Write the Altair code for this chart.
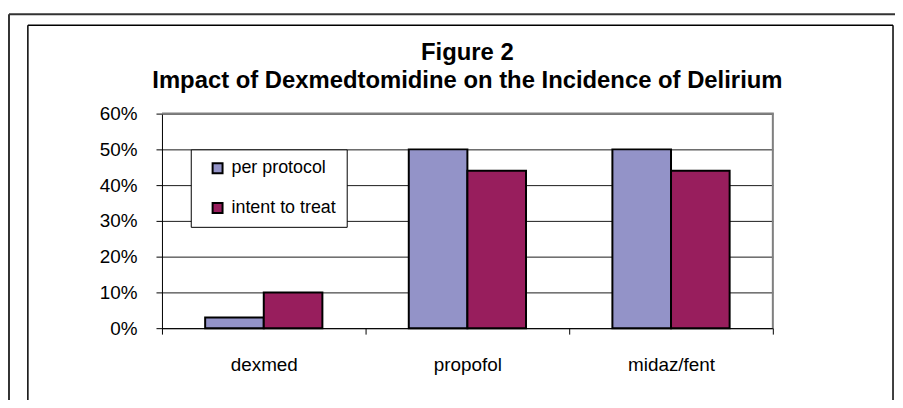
import altair as alt
import pandas as pd

# ---- data ----
categories = ["dexmed", "propofol", "midaz/fent"]
series = ["per protocol", "intent to treat"]
per_protocol = [0.03, 0.50, 0.50]
intent_to_treat = [0.10, 0.44, 0.44]
y_ticks = [0, 0.1, 0.2, 0.3, 0.4, 0.5, 0.6]
colors = ["#9393C8", "#981E5D"]
title_lines = ["Figure 2", "Impact of Dexmedtomidine on the Incidence of Delirium"]

rows = []
for c, a, b in zip(categories, per_protocol, intent_to_treat):
    rows.append({"drug": c, "series": series[0], "value": a})
    rows.append({"drug": c, "series": series[1], "value": b})
df = pd.DataFrame(rows)

FONT = "Liberation Sans"
W, H = 615, 216
PL, PT = 155, 105  # padding so the plot area starts at page (163, 113)
NBSP = "\u00a0"

bars = alt.Chart(df).mark_bar(stroke="black", strokeWidth=2).encode(
    x=alt.X(
        "drug:N", sort=categories, title=None,
        scale=alt.Scale(paddingInner=0, paddingOuter=0),
        axis=alt.Axis(labelAngle=0, tickBand="extent", domainColor="black",
                      tickColor="black", tickSize=6, labelFontSize=19,
                      labelColor="black", labelPadding=22, labelFont=FONT,
                      grid=False),
    ),
    xOffset=alt.XOffset("series:N", sort=series,
                        scale=alt.Scale(paddingInner=0, paddingOuter=0.737)),
    y=alt.Y(
        "value:Q", title=None,
        scale=alt.Scale(domain=[0, 0.6], nice=False),
        axis=alt.Axis(values=y_ticks, format="0%", grid=True, gridColor="#1a1a1a",
                      gridWidth=1, domainColor="black", tickColor="black",
                      tickSize=6, labelFontSize=19, labelColor="black",
                      labelPadding=19, labelFont=FONT),
    ),
    color=alt.Color(
        "series:N", sort=series,
        scale=alt.Scale(domain=series, range=colors),
        legend=alt.Legend(
            title=None, orient="none", legendX=29, legendY=36,
            padding=10, fillColor="white", strokeColor="black",
            symbolType="square", symbolSize=100, symbolStrokeColor="black",
            symbolStrokeWidth=2, symbolOpacity=1, labelFontSize=18,
            labelColor="black", labelFont=FONT, rowPadding=22,
            labelOffset=5, symbolOffset=8,
            labelExpr="datum.label + '" + NBSP * 4 + "'",
        ),
    ),
)

# plot-area border (gray, top and right)
top_border = alt.Chart().mark_rule(color="#808080", strokeWidth=2).encode(
    x=alt.value(0), x2=alt.value(W + 1), y=alt.value(0))
right_border = alt.Chart().mark_rule(color="#808080", strokeWidth=2).encode(
    x=alt.value(W), y=alt.value(0), y2=alt.value(H))

# outer and inner frames of the figure
outer_top = alt.Chart().mark_rule(color="#333333", strokeWidth=2).encode(
    x=alt.value(-154), x2=alt.value(900), y=alt.value(-100))
outer_left = alt.Chart().mark_rule(color="#333333", strokeWidth=2).encode(
    x=alt.value(-154), y=alt.value(-100), y2=alt.value(400))
inner_top = alt.Chart().mark_rule(color="black", strokeWidth=1.5).encode(
    x=alt.value(-135), x2=alt.value(736), y=alt.value(-89))
inner_left = alt.Chart().mark_rule(color="black", strokeWidth=1.5).encode(
    x=alt.value(-135), y=alt.value(-89), y2=alt.value(400))
inner_right = alt.Chart().mark_rule(color="black", strokeWidth=1.5).encode(
    x=alt.value(736), y=alt.value(-89), y2=alt.value(400))

chart = alt.layer(
    bars, top_border, right_border,
    outer_top, outer_left, inner_top, inner_left, inner_right,
).properties(
    width=W, height=H,
    padding={"left": PL, "top": PT, "right": 893 - PL - W, "bottom": 392 - PT - H},
    autosize=alt.AutoSizeParams(type="none"),
    title=alt.Title(
        title_lines, fontSize=24, fontWeight="bold", font=FONT, color="black",
        lineHeight=28, anchor="middle", frame="group", offset=-80,
    ),
).configure_view(
    fill="#C0C0C0", stroke=None,
).configure(background="white")

chart.save("out.html", embed_options={"renderer": "svg", "actions": False})
